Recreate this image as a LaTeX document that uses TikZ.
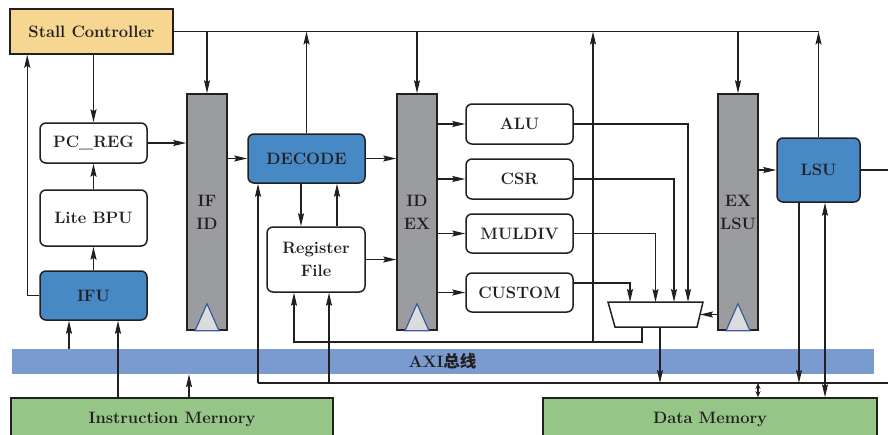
\documentclass[tikz,border=0pt]{standalone}
\usepackage{fontspec}
\usetikzlibrary{arrows.meta}
\newfontfamily\cjk{Noto Sans CJK SC}
\definecolor{linecol}{HTML}{231F20}
\definecolor{stallfill}{HTML}{F6D690}
\definecolor{unitblue}{HTML}{4689C5}
\definecolor{stagegray}{HTML}{9A9C9F}
\definecolor{busblue}{HTML}{7A9BCF}
\definecolor{memgreen}{HTML}{95C587}
\definecolor{clkedge}{HTML}{3D5C9E}
\definecolor{clkfill}{HTML}{DCDCDD}
\tikzset{
  lbl/.style={font={\fontsize{16.5}{23}\selectfont\bfseries}, text=linecol},
  unit/.style={lbl, draw=linecol, line width=1.5pt, rounded corners=6pt, fill=white,
               minimum width=107, minimum height=40, inner sep=0pt, align=center},
  blueunit/.style={unit, fill=unitblue},
  stage/.style={lbl, draw=linecol, line width=1.5pt, fill=stagegray,
                minimum width=40, minimum height=236, inner sep=0pt, align=center},
  memblock/.style={lbl, draw=linecol, line width=1.5pt, fill=memgreen, minimum height=42},
  muxbox/.style={draw=linecol, line width=1.5pt, fill=white},
  clk/.style={draw=clkedge, fill=clkfill, line width=1.2pt},
  wire/.style={draw=linecol, line width=1.4pt},
  shortwire/.style={wire, {Stealth[length=6pt,width=5pt]}-{Stealth[length=6pt,width=5pt]}},
}

\begin{document}
\begin{tikzpicture}[x=1pt, y=-1pt, >={Stealth[length=13pt,width=6pt,inset=2pt]}]
    \useasboundingbox (0,0) rectangle (888,434);
    % bus and memories
    \node[lbl, fill=busblue, minimum width=862, minimum height=25, inner sep=0pt] (axi) at (442.5,361.5) {AXI{\cjk 总线}};
    \node[memblock, minimum width=322] (imem) at (172,419) {Instruction Mernory};
    \node[memblock, minimum width=334] (dmem) at (710,419) {Data Memory};
    % fetch
    \node[lbl, draw=linecol, line width=1.5pt, fill=stallfill, minimum width=163, minimum height=45] (stall) at (91.5,31.5) {Stall Controller};
    \node[unit] (pc) at (93.5,143) {PC\_REG};
    \node[unit, minimum height=56] (bpu) at (93.5,218) {Lite BPU};
    \node[blueunit, minimum height=49] (ifu) at (93.5,295.5) {IFU};
    % pipeline registers
    \node[stage] (ifid) at (207,212) {IF\\ID};
    \node[stage] (idex) at (417,212) {ID\\EX};
    \node[stage] (exlsu) at (738,212) {EX\\LSU};
    \foreach \r in {ifid,idex,exlsu}
      \draw[clk] ([xshift=-12]\r.south) -- ([yshift=27]\r.south) -- ([xshift=12]\r.south) -- cycle;
    % decode
    \node[blueunit, minimum width=117, minimum height=49] (decode) at (306.5,158.5) {DECODE};
    \node[unit, minimum width=98, minimum height=65] (rf) at (316,259.5) {Register\\File};
    % execute
    \node[unit] (alu) at (519.5,124) {ALU};
    \node[unit] (csr) at (519.5,179) {CSR};
    \node[unit, minimum height=39] (muldiv) at (519.5,233.5) {MULDIV};
    \node[unit, minimum height=39] (custom) at (519.5,292.5) {CUSTOM};
    \draw[muxbox] (608,302) -- (703,302) -- (697,327) -- (615,327) -- cycle;
    \coordinate (muxn) at (655.5,302);
    \coordinate (muxs) at (655.5,327);
    \coordinate (muxe) at (700,314.5);
    \node[blueunit, minimum width=83, minimum height=64] (lsu) at (818.5,170) {LSU};
    \coordinate (dbw) at (258,383);
    \coordinate (dbe) at (888,383);
    \coordinate (brk) at (593,342);

    % stall control
    \draw[wire] (stall.east) -- (lsu.north |- stall.east);
    \draw[wire, ->] (stall.south -| pc.north) -- (pc.north);
    \draw[wire, ->] (ifu.west) -| ([xshift=18]stall.south west);
    \draw[wire, ->] (stall.east -| ifid.north) -- (ifid.north);
    \draw[wire, ->] (decode.north) -- (decode.north |- stall.east);
    \draw[wire, ->] (stall.east -| idex.north) -- (idex.north);
    \draw[wire, ->] (brk) -- (brk |- stall.east);
    \draw[wire, ->] (stall.east -| exlsu.north) -- (exlsu.north);
    \draw[wire, ->] (lsu.north) -- (lsu.north |- stall.east);
    % fetch path
    \draw[wire, ->] (bpu) -- (pc);
    \draw[wire, ->] (ifu) -- (bpu);
    \draw[wire, ->] (pc) -- (pc -| ifid.west);
    \draw[wire, ->] ([xshift=-24.5]ifu.south |- axi.north) -- ([xshift=-24.5]ifu.south);
    \draw[wire, ->] ([xshift=24.5]ifu.south |- imem.north) -- ([xshift=24.5]ifu.south);
    \draw[wire, ->] ([xshift=17]imem.north) -- ([xshift=17]imem.north |- axi.south);
    % decode path
    \draw[wire, ->] (decode.west -| ifid.east) -- (decode.west);
    \draw[wire, ->] (decode.east) -- (decode.east -| idex.west);
    \draw[wire, ->] ([xshift=-15]rf.north |- decode.south) -- ([xshift=-15]rf.north);
    \draw[wire, ->] ([xshift=21]rf.north) -- ([xshift=21]rf.north |- decode.south);
    \draw[wire, ->] (rf.east) -- (rf.east -| idex.west);
    % execute path
    \foreach \u in {alu,csr,muldiv,custom}
      \draw[wire, ->] (\u.west -| idex.east) -- (\u.west);
    \draw[wire, ->] (alu.east) -| ([xshift=32.5]muxn);
    \draw[wire, ->] (csr.east) -| ([xshift=18.5]muxn);
    \draw[wire, ->] (muldiv.east) -| (muxn);
    \draw[wire, ->] ([yshift=9.5]custom.east) -| ([xshift=-25.5]muxn);
    \draw[wire, ->] (exlsu.west |- muxe) -- (muxe);
    \draw[wire, ->] ([xshift=-13.5]muxs) -- ++(0,15) -| ([xshift=-22]rf.south);
    \draw[wire, ->] ([xshift=4.5]muxs) -- ([xshift=4.5]muxs |- dbw);
    % memory path
    \draw[wire] (dbw) -- (dbe);
    \draw[wire, ->] (dbw) -- (dbw |- decode.south);
    \draw[wire, ->] ([xshift=13]rf.south |- dbw) -- ([xshift=13]rf.south);
    \draw[wire, ->] (lsu.west -| exlsu.east) -- (lsu.west);
    \draw[wire] (lsu.east) -- (lsu.east -| dbe);
    \draw[wire, ->] ([xshift=-19.5]lsu.south) -- ([xshift=-19.5]lsu.south |- dbw);
    \draw[wire, <->] ([xshift=6.5]lsu.south) -- ([xshift=6.5]lsu.south |- dmem.north);
    \draw[shortwire] ([xshift=48]dmem.north |- dbw) -- ([xshift=48]dmem.north);
  \end{tikzpicture}
\end{document}
